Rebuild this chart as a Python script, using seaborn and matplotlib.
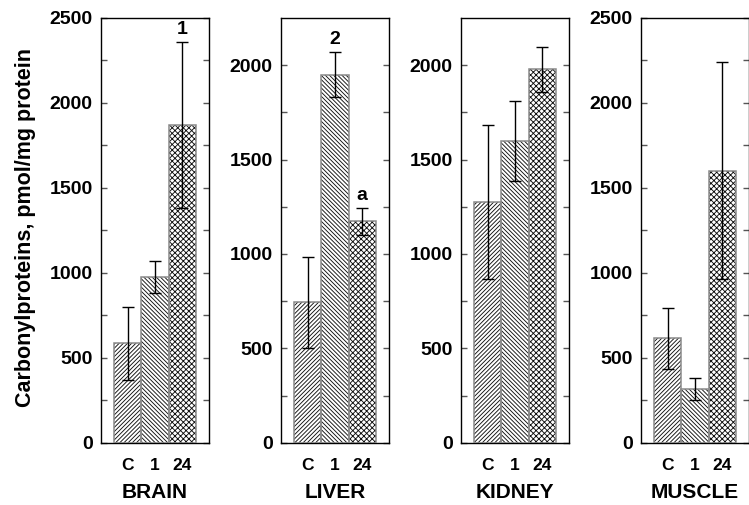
import matplotlib
matplotlib.use("Agg")
import matplotlib.pyplot as plt
import seaborn as sns
import numpy as np
import pandas as pd

# ---- data ----
groups = ["C", "1", "24"]
tissues = ["BRAIN", "LIVER", "KIDNEY", "MUSCLE"]
brain_mean = [585, 975, 1870]
brain_err = [214, 96, 490]
liver_mean = [743, 1950, 1172]
liver_err = [239, 120, 72]
kidney_mean = [1273, 1597, 1979]
kidney_err = [408, 211, 120]
muscle_mean = [614, 314, 1601]
muscle_err = [180, 64, 640]
y_max = [2500, 2250, 2250, 2500]
y_ticks_max = [2500, 2000, 2000, 2500]
# significance marks: (tissue index, group index, text)
marks_tissue = [0, 1, 1]
marks_group = [2, 1, 2]
marks_text = ["1", "2", "a"]
y_label = "Carbonylproteins, pmol/mg protein"

means = [brain_mean, liver_mean, kidney_mean, muscle_mean]
errs = [brain_err, liver_err, kidney_err, muscle_err]
hatches = ["////////", "\\\\\\\\\\\\\\\\", "xxxxxx"]

sns.set_style("ticks")
plt.rcParams["font.family"] = ["Liberation Sans", "DejaVu Sans"]
plt.rcParams["font.weight"] = "bold"
plt.rcParams["text.color"] = "black"
plt.rcParams["axes.labelcolor"] = "black"
plt.rcParams["xtick.color"] = "black"
plt.rcParams["ytick.color"] = "black"
plt.rcParams["hatch.linewidth"] = 0.65
plt.rcParams["hatch.color"] = "#111111"

W, H = 749, 505
fig = plt.figure(figsize=(W / 100, H / 100), dpi=100)

lefts = [101, 281, 461, 641]
ax_w = 108
top_px, bot_px = 18, 442.7

axes = []
for i, tissue in enumerate(tissues):
    ax = fig.add_axes([lefts[i] / W, 1 - bot_px / H, ax_w / W, (bot_px - top_px) / H])
    axes.append(ax)
    df = pd.DataFrame({"group": groups, "value": means[i]})
    sns.barplot(data=df, x="group", y="value", ax=ax, color="white",
                width=1.0, errorbar=None, linewidth=0, saturation=1)
    for p, h in zip(ax.patches, hatches):
        p.set_hatch(h)
        p.set_edgecolor("#111111")
        p.set_linewidth(0)
        # gray outline drawn on top
        ax.add_patch(plt.Rectangle(p.get_xy(), p.get_width(), p.get_height(),
                                   fill=False, edgecolor="#8a8a8a", linewidth=1.1, zorder=3))
    xs = np.arange(len(groups))
    ax.errorbar(xs, means[i], yerr=errs[i], fmt="none", ecolor="black",
                elinewidth=1.0, capsize=4, capthick=1.0, zorder=5)
    ax.set_xlim(-0.98, 2.98)
    ax.set_ylim(0, y_max[i])
    ax.set_yticks(np.arange(0, y_ticks_max[i] + 1, 500))
    ax.set_yticks(np.arange(250, y_max[i], 500), minor=True)
    ax.tick_params(axis="y", which="both", direction="in", left=True, right=True,
                   length=4.5, width=1.0, color="#555555", labelsize=14, pad=6,
                   labelcolor="black")
    ax.tick_params(axis="x", length=0, labelsize=12.5, pad=11, labelcolor="black")
    for lab in ax.get_yticklabels() + ax.get_xticklabels():
        lab.set_fontweight("bold")
    for s in ax.spines.values():
        s.set_visible(True)
        s.set_linewidth(1.0)
        s.set_color("black")
    ax.set_ylabel("")
    ax.set_xlabel(tissue, fontsize=15, fontweight="bold", labelpad=7, color="black")

for t, g, txt in zip(marks_tissue, marks_group, marks_text):
    ax = axes[t]
    ax.annotate(txt, xy=(g, means[t][g] + errs[t][g]), xytext=(0, 3),
                textcoords="offset points", ha="center", va="bottom",
                fontsize=14, fontweight="bold", color="black")

fig.text(26 / W, 1 - 227.5 / H, y_label, rotation=90, ha="center", va="center",
         fontsize=15.5, fontweight="bold", color="black")

fig.savefig("out.png", dpi=100)
